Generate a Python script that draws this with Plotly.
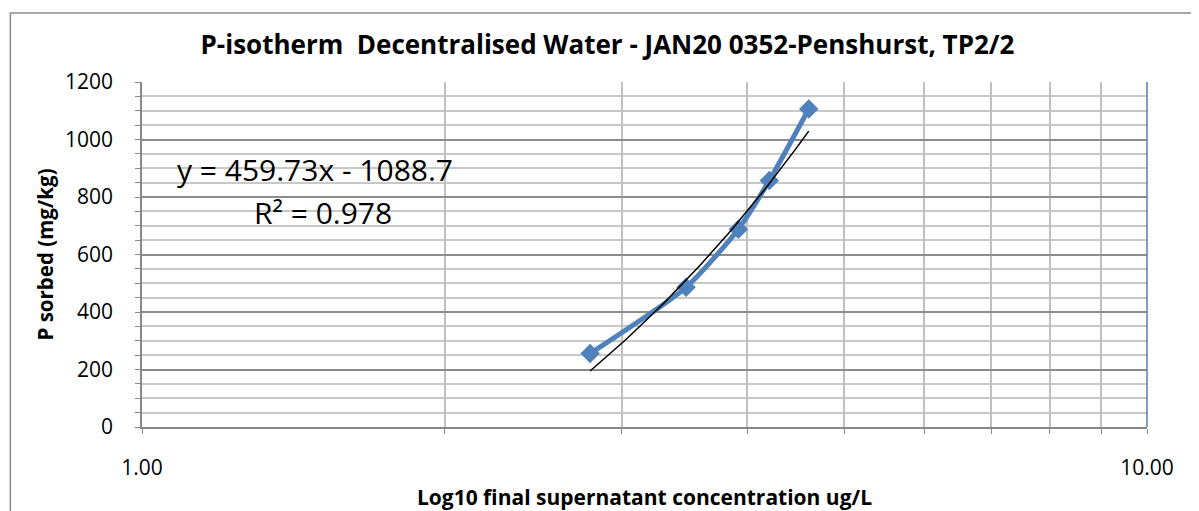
import numpy as np
import plotly.graph_objects as go

x_conc = [2.792, 3.478, 3.921, 4.209, 4.607]
p_sorbed = [256, 486, 688, 857, 1106]
slope = 459.73
intercept = -1088.7
r2 = 0.978
x_tickvals = [1, 2, 3, 4, 5, 6, 7, 8, 9, 10]
x_ticktext = ["1.00", "", "", "", "", "", "", "", "", "10.00"]
y_tickvals = [0, 200, 400, 600, 800, 1000, 1200]

FONT = "Open Sans"

tx = np.linspace(min(x_conc), max(x_conc), 60)
ty = slope * tx + intercept

fig = go.Figure()
fig.add_trace(go.Scatter(
    x=x_conc, y=p_sorbed, mode="lines+markers",
    line=dict(color="#4f81bd", width=5, shape="spline", smoothing=0.6),
    marker=dict(symbol="diamond", size=15, color="#4f81bd"),
    showlegend=False))
fig.add_trace(go.Scatter(
    x=tx, y=ty, mode="lines",
    line=dict(color="black", width=1.5), showlegend=False))

fig.update_layout(
    width=1199, height=511,
    margin=dict(l=134, r=60, t=74, b=92),
    paper_bgcolor="white", plot_bgcolor="white",
    font=dict(family=FONT, color="black"),
    title=dict(text="<b>P-isotherm  Decentralised Water - JAN20 0352-Penshurst, TP2/2</b>",
               x=0.5, xanchor="center", xref="container", yref="container",
               y=0.928, yanchor="middle",
               font=dict(size=26, family=FONT)),
    xaxis=dict(type="log", range=[0, 1], tickvals=x_tickvals, ticktext=x_ticktext,
               showgrid=True, gridcolor="#c0c0c0", gridwidth=1.5,
               ticks="outside", ticklen=5, tickcolor="#888888",
               showline=True, linecolor="#888888", linewidth=1.5, mirror=False,
               tickfont=dict(size=21), ticklabelstandoff=16,
               title=dict(text="<b>Log10 final supernatant concentration ug/L</b>",
                          font=dict(size=21), standoff=10),
               zeroline=False),
    yaxis=dict(range=[0, 1200], tickvals=y_tickvals,
               showgrid=True, gridcolor="#8c8c8c", gridwidth=1.5,
               ticks="outside", ticklen=5, tickcolor="#888888",
               showline=True, linecolor="#888888", linewidth=1.5,
               tickfont=dict(size=21), ticklabelstandoff=18,
               minor=dict(dtick=50, showgrid=True, gridcolor="#c8c8c8", gridwidth=1.5,
                          ticks="outside", ticklen=5, tickcolor="#888888"),
               title=dict(text="<b>P sorbed (mg/kg)</b>", font=dict(size=20.5), standoff=6),
               zeroline=False),
)

fig.add_shape(type="line", xref="paper", yref="paper", x0=1, x1=1, y0=0, y1=1,
              line=dict(color="#4f81bd", width=1.5))
fig.add_shape(type="rect", xref="paper", yref="paper",
              x0=-0.131, x1=1.2, y0=-0.4, y1=1.2,
              line=dict(color="#8c8c8c", width=1.5), layer="below")

fig.add_annotation(xref="paper", yref="paper", x=0.172, y=0.745,
                   text="y = 459.73x - 1088.7", showarrow=False,
                   font=dict(size=30, family=FONT), xanchor="center", yanchor="middle")
fig.add_annotation(xref="paper", yref="paper", x=0.18, y=0.623,
                   text="R² = 0.978", showarrow=False,
                   font=dict(size=30, family=FONT), xanchor="center", yanchor="middle")

fig.write_html("out.html")
